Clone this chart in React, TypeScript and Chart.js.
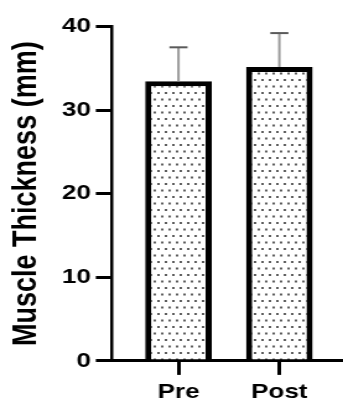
import React, { useEffect, useRef } from 'react';
import { Chart, registerables } from 'chart.js';

Chart.register(...registerables);

const categories = ['Pre', 'Post'];
const means = [33.45, 35.15];
const errors = [4.05, 4.05];
const yTicks = [0, 10, 20, 30, 40];
const yTitle = 'Muscle Thickness (mm)';

const FONT = '"Liberation Sans", Arial, Helvetica, sans-serif';
const CANVAS_W = 277;
const CANVAS_H = 401;

function makePattern(): CanvasPattern | string {
  const c = document.createElement('canvas');
  c.width = 6;
  c.height = 13;
  const g = c.getContext('2d');
  if (!g) return '#fff';
  g.fillStyle = '#ffffff';
  g.fillRect(0, 0, 6, 13);
  g.fillStyle = '#5e5e5e';
  g.fillRect(1, 1, 2, 2);
  g.fillRect(4, 7.5, 2, 2);
  return g.createPattern(c, 'repeat') || '#fff';
}

const errorBars = {
  id: 'errorBars',
  afterDatasetsDraw(chart: any) {
    const meta = chart.getDatasetMeta(0);
    const y = chart.scales.y;
    const ctx = chart.ctx;
    ctx.save();
    meta.data.forEach((bar: any, i: number) => {
      const x = bar.x;
      const top = y.getPixelForValue(means[i] + errors[i]);
      const base = y.getPixelForValue(means[i]);
      ctx.strokeStyle = '#9a9a9a';
      ctx.lineWidth = 2;
      ctx.beginPath();
      ctx.moveTo(x, base);
      ctx.lineTo(x, top);
      ctx.stroke();
      ctx.strokeStyle = '#5a5a5a';
      ctx.lineWidth = 2;
      ctx.beginPath();
      ctx.moveTo(x - 7.3, top);
      ctx.lineTo(x + 7.3, top);
      ctx.stroke();
    });
    ctx.restore();
  },
};

export default function App() {
  const ref = useRef<HTMLCanvasElement | null>(null);

  useEffect(() => {
    if (!ref.current) return;
    const pattern = makePattern();
    const tickFont = { family: FONT, size: 21, weight: 'bold' as const, lineHeight: 1 };
    const chart = new Chart(ref.current, {
      type: 'bar',
      data: {
        datasets: [
          {
            data: means.map((m, i) => ({ x: i + 1, y: m })),
            backgroundColor: pattern as any,
            borderColor: '#000',
            borderWidth: 5,
            barPercentage: 0.66,
            categoryPercentage: 1,
          },
        ],
      },
      options: {
        responsive: false,
        animation: false,
        events: [],
        layout: { padding: { left: 5.3, top: 26.4, right: 0, bottom: -8.3 } },
        plugins: { legend: { display: false }, tooltip: { enabled: false } },
        scales: {
          x: {
            type: 'linear',
            min: 0.34,
            max: 2.631,
            offset: false,
            afterBuildTicks: (s: any) => {
              s.ticks = categories.map((_, i) => ({ value: i + 1 }));
            },
            ticks: {
              callback: (v: any) => categories[Number(v) - 1] ?? '',
              font: tickFont,
              color: '#000',
              padding: 6.7,
              maxRotation: 0,
              autoSkip: false,
            },
            grid: {
              offset: false,
              drawOnChartArea: false,
              drawTicks: true,
              tickLength: 14,
              tickWidth: 3,
              tickColor: '#000',
              color: '#000',
              lineWidth: 3,
            },
            border: { display: true, color: '#000', width: 3 },
            z: 1,
          } as any,
          y: {
            min: 0,
            max: 40,
            afterBuildTicks: (s: any) => {
              s.ticks = yTicks.map((v) => ({ value: v }));
            },
            ticks: {
              font: { ...tickFont, lineHeight: 1.2 },
              color: '#000',
              padding: 4,
            },
            grid: {
              drawOnChartArea: false,
              drawTicks: true,
              tickLength: 13,
              tickWidth: 3,
              tickColor: '#000',
              color: '#000',
              lineWidth: 3,
            },
            border: { display: true, color: '#000', width: 2.5 },
            title: {
              display: true,
              text: yTitle,
              color: '#000',
              font: { family: FONT, size: 27, weight: 'bold', lineHeight: 1.2 },
              padding: { top: 0, bottom: 8.3 },
            },
            z: 1,
          } as any,
        },
      },
      plugins: [errorBars],
    });
    return () => chart.destroy();
  }, []);

  return (
    <div style={{ position: 'absolute', left: 0, top: 0, width: 343, height: 401 }}>
      <canvas
        ref={ref}
        width={CANVAS_W}
        height={CANVAS_H}
        style={{ width: '343px', height: '401px', display: 'block' }}
      />
    </div>
  );
}
